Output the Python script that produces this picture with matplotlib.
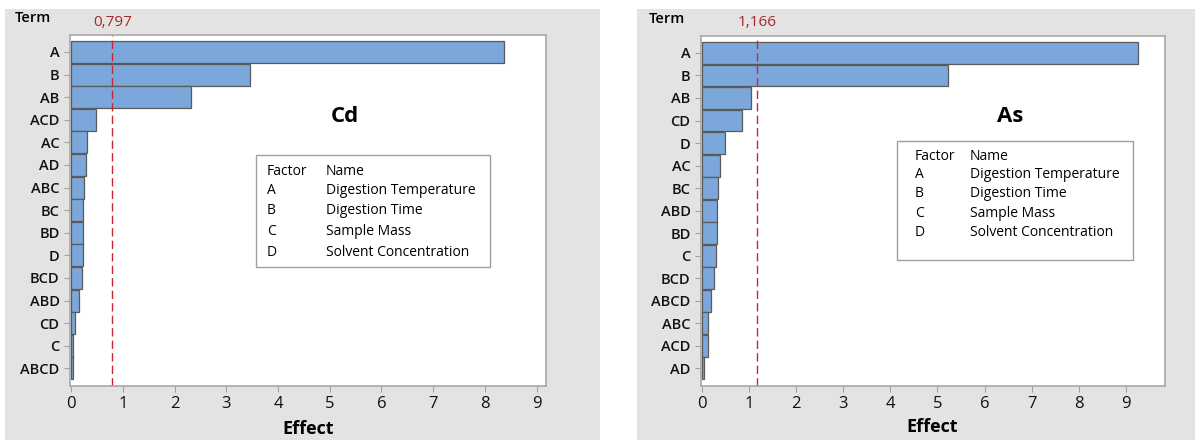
import matplotlib.pyplot as plt
import matplotlib.transforms as mtransforms
from matplotlib.patches import Rectangle

plt.rcParams['font.family'] = ['Open Sans', 'DejaVu Sans']

# Pareto chart of standardized effects, one panel per element
cd_terms = ['A', 'B', 'AB', 'ACD', 'AC', 'AD', 'ABC', 'BC', 'BD', 'D', 'BCD', 'ABD', 'CD', 'C', 'ABCD']
cd_effects = [8.36, 3.45, 2.31, 0.49, 0.31, 0.29, 0.25, 0.23, 0.23, 0.23, 0.21, 0.16, 0.07, 0.035, 0.03]
cd_limit = 0.797

as_terms = ['A', 'B', 'AB', 'CD', 'D', 'AC', 'BC', 'ABD', 'BD', 'C', 'BCD', 'ABCD', 'ABC', 'ACD', 'AD']
as_effects = [9.26, 5.23, 1.05, 0.85, 0.48, 0.38, 0.35, 0.31, 0.31, 0.29, 0.26, 0.19, 0.12, 0.12, 0.05]
as_limit = 1.166

factors = ['A', 'B', 'C', 'D']
factor_names = ['Digestion Temperature', 'Digestion Time', 'Sample Mass', 'Solvent Concentration']

W, H = 1195, 440
fig = plt.figure(figsize=(W / 100, H / 100), dpi=100)
fig.patch.set_facecolor('white')


def px(x, y):
    # pixel position (from top-left) to figure fraction
    return x / W, 1 - y / H


def panel(bg, box, terms, effects, limit, title, title_pos, legend_box, rows, cols,
          term_pos, effect_pos, xmax):
    fig.patches.append(Rectangle(px(bg[0], bg[3]), (bg[2] - bg[0]) / W, (bg[3] - bg[1]) / H,
                                 transform=fig.transFigure, facecolor='#e3e3e3',
                                 edgecolor='none', zorder=-10))
    l, t, r, b = box
    x0, y0 = px(l, b)
    ax = fig.add_axes([x0, y0, (r - l) / W, (b - t) / H])
    ax.set_zorder(1)
    ax.set_facecolor('white')
    pos = list(range(len(terms)))
    ax.barh(pos, effects, height=0.97, color='#7ba7da', edgecolor='#5a5a5a', linewidth=0.9)
    ax.set_ylim(len(terms) - 0.22, -0.75)
    ax.set_xlim(-0.02, xmax)
    ax.set_yticks(pos)
    ax.set_yticklabels(terms, fontsize=10.5, fontweight='semibold')
    ax.set_xticks(range(10))
    ax.tick_params(axis='both', color='#a0a0a0', length=4, width=0.8,
                   labelcolor='#111111')
    ax.tick_params(axis='x', labelsize=12)
    for s in ax.spines.values():
        s.set_color('#a8a8a8')
        s.set_linewidth(1.2)

    ax.axvline(limit, color='#c8282d', linestyle=(0, (6, 3)), linewidth=1)
    trans = mtransforms.blended_transform_factory(ax.transData, fig.transFigure)
    ax.text(limit, px(0, 22)[1], f'{limit:.3f}'.replace('.', ','), transform=trans,
            ha='center', va='center', color='#a8282a', fontsize=11, clip_on=False)

    ax.text(*px(*title_pos), title, transform=fig.transFigure, ha='center', va='center',
            fontsize=16, fontweight='bold')
    fig.text(*px(*term_pos), 'Term', ha='center', va='center', fontsize=10.5,
             fontweight='semibold')
    fig.text(*px(*effect_pos), 'Effect', ha='center', va='center', fontsize=13,
             fontweight='bold')

    lx0, ly0, lx1, ly1 = legend_box
    ax.add_patch(Rectangle(px(lx0, ly1), (lx1 - lx0) / W, (ly1 - ly0) / H,
                           transform=fig.transFigure, facecolor='white',
                           edgecolor='#a0a0a0', linewidth=1, zorder=3))
    labels = [('Factor', 'Name')] + list(zip(factors, factor_names))
    for (f, n), ry in zip(labels, rows):
        ax.text(*px(cols[0], ry), f, transform=fig.transFigure, ha='left', va='center',
                fontsize=10, zorder=4)
        ax.text(*px(cols[1], ry), n, transform=fig.transFigure, ha='left', va='center',
                fontsize=10, zorder=4)
    return ax


panel((5, 9, 600, 440), (70, 35, 546, 386), cd_terms, cd_effects, cd_limit, 'Cd', (345, 116),
      (256, 155, 490, 267), [171, 190, 210, 231, 252], (267, 326), (33, 18), (308, 429), 9.18)
panel((637, 9, 1195, 440), (701, 36, 1165, 386), as_terms, as_effects, as_limit, 'As', (1010, 116),
      (897, 141, 1133, 260), [156, 174, 193, 213, 232], (915, 970), (667, 19), (932, 427), 9.83)

fig.savefig('out.png', dpi=100)
